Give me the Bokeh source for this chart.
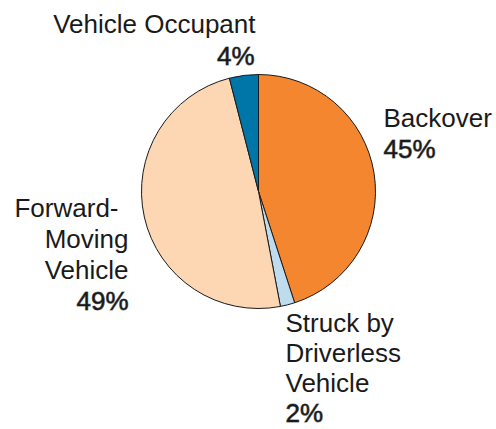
import math
from bokeh.plotting import figure
from bokeh.models import ColumnDataSource, Range1d
from bokeh.core.properties import value
from bokeh.embed import file_html
from bokeh.resources import INLINE

# ---- data ----
categories = ["Backover", "Struck by Driverless Vehicle", "Forward-Moving Vehicle", "Vehicle Occupant"]
percents = [45, 2, 49, 4]
colors = ["#F4862F", "#BEDCEE", "#FDD6B3", "#0076A8"]
label_lines = [["Backover"], ["Struck by", "Driverless", "Vehicle"], ["Forward-", "Moving", "Vehicle"], ["Vehicle Occupant"]]

# ---- layout (page-pixel positions) ----
W, H = 496, 429
def px(x): return x
def py(y): return H - y

cx, cy, R = px(258), py(191), 117
# per category: (align, [x for each line incl. percent], [baseline for each line incl. percent])
label_layout = [
    ("left",  [383, 383], [127, 158]),
    ("left",  [285, 285, 285, 285], [332, 362, 392, 422]),
    ("right", [118, 128, 128, 128], [217, 248, 279, 310]),
    ("right", [255, 254], [33, 65]),
]

p = figure(width=W, height=H, output_backend="svg", toolbar_location=None,
           x_range=Range1d(0, W), y_range=Range1d(0, H), min_border=0)
p.axis.visible = False
p.grid.visible = False
p.outline_line_color = None

total = sum(percents)
starts, ends = [], []
acc = 0
for v in percents:
    starts.append(math.pi / 2 - acc / total * 2 * math.pi)
    acc += v
    ends.append(math.pi / 2 - acc / total * 2 * math.pi)

src = ColumnDataSource(dict(x=[cx] * len(percents), y=[cy] * len(percents),
                            start=starts, end=ends, color=colors))
p.wedge(x="x", y="y", radius=R, start_angle="start", end_angle="end",
        direction="clock", fill_color="color", line_color="#1a1a1a", line_width=1,
        source=src)

groups = {}
for lines, pct, (align, xs, ys) in zip(label_lines, percents, label_layout):
    texts = lines + [f"{pct}%"]
    for i, t in enumerate(texts):
        kind = "pct" if i == len(texts) - 1 else "name"
        g = groups.setdefault((align, kind), dict(x=[], y=[], text=[]))
        g["x"].append(px(xs[i]))
        g["y"].append(py(ys[i]))
        g["text"].append(t)

for (align, kind), d in groups.items():
    # a faint outline on the percentages mimics the reference's medium weight
    extra = dict(text_outline_color="rgba(26,26,26,0.6)") if kind == "pct" else {}
    p.text(x="x", y="y", text="text", source=ColumnDataSource(d),
           text_font=value("Liberation Sans"), text_font_size="26px",
           text_font_style="normal", text_align=align, text_baseline="alphabetic",
           text_color="#1a1a1a", y_offset=-10, **extra)

open("out.html", "w").write(file_html(p, INLINE))
